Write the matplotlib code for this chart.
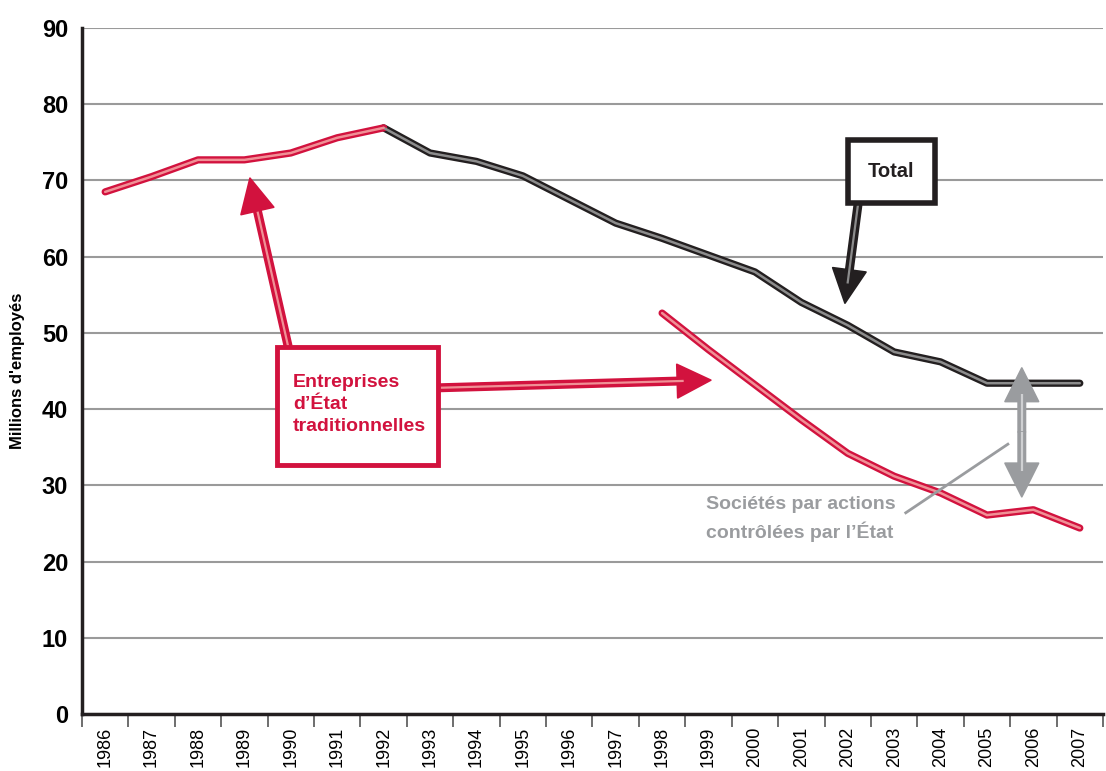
import numpy as np
import matplotlib
matplotlib.use('Agg')
import matplotlib.pyplot as plt
from matplotlib.patches import Rectangle

plt.rcParams['font.family'] = ['Liberation Sans', 'DejaVu Sans']

# data (millions of employees)
years = [str(y) for y in range(1986, 2008)]
total = [68.5, 70.5, 72.7, 72.7, 73.6, 75.6, 76.9, 73.6, 72.5, 70.6, 67.5,
         64.4, 62.4, 60.2, 58.0, 54.0, 51.0, 47.5, 46.2, 43.4, 43.4, 43.4]
trad_start = 12  # traditional SOEs series only shown from 1998
traditional = [52.6, 47.8, 43.2, 38.6, 34.2, 31.2, 29.0, 26.1, 26.8, 24.4]
yticks = [0, 10, 20, 30, 40, 50, 60, 70, 80, 90]

RED = '#d2123e'
PINK = '#f09096'
DARK = '#231f20'
MID = '#8c8c8c'
GREY = '#9a9c9f'
LGREY = '#cfd0d2'

fig = plt.figure(figsize=(11.06, 7.71), dpi=100)
ax = fig.add_axes([0.0741, 0.0739, 0.9232, 0.8898])

x = np.arange(len(years))


def double_line(xs, ys, outer, inner):
    ax.plot(xs, ys, color=outer, lw=5.2, solid_capstyle='round',
            solid_joinstyle='round', zorder=3)
    ax.plot(xs, ys, color=inner, lw=1.8, solid_capstyle='round',
            solid_joinstyle='round', zorder=4)


def double_arrow(start, tip, outer, inner, frac=0.8):
    # solid arrow with a thin light stripe along the shaft
    ax.annotate('', xy=tip, xytext=start,
                arrowprops=dict(arrowstyle='simple,head_length=1.1,head_width=1.1,tail_width=0.24',
                                fc=outer, ec=outer, lw=1.2, shrinkA=0, shrinkB=0,
                                mutation_scale=22), zorder=5)
    mid = (start[0] + (tip[0] - start[0]) * frac, start[1] + (tip[1] - start[1]) * frac)
    ax.plot([start[0], mid[0]], [start[1], mid[1]], color=inner, lw=1.6,
            solid_capstyle='butt', zorder=5)


# total: red while equal to traditional SOEs (to 1992), black afterwards
double_line(x[6:], total[6:], DARK, MID)
double_line(x[:7], total[:7], RED, PINK)
double_line(x[trad_start:], traditional, RED, PINK)

ax.set_xlim(-0.5, len(years) - 0.5)
ax.set_ylim(0, 90)
ax.set_yticks(yticks)
ax.set_yticklabels([str(v) for v in yticks], fontsize=17, fontweight='bold')
ax.tick_params(axis='y', length=0, pad=10)
ax.yaxis.grid(True, color='#9a9a9a', lw=1.5)
ax.set_axisbelow(True)

ax.set_xticks(np.arange(len(years) + 1) - 0.5)
ax.set_xticklabels([])
ax.set_xticks(x, minor=True)
ax.set_xticklabels(years, minor=True, rotation=90, fontsize=13, va='top')
ax.tick_params(axis='x', which='major', length=9, width=1.2, color='#555555')
ax.tick_params(axis='x', which='minor', length=0, pad=9)

for s in ['top', 'right']:
    ax.spines[s].set_visible(False)
for s in ['left', 'bottom']:
    ax.spines[s].set_linewidth(2.5)
    ax.spines[s].set_color(DARK)

ax.set_ylabel("Millions d'employés", fontsize=12, fontweight='bold', labelpad=12)

# Total label box and arrow
ax.add_patch(Rectangle((16.0, 67.0), 1.88, 8.3, fc='white', ec=DARK, lw=4,
                       zorder=6, clip_on=False))
ax.text(16.94, 71.2, 'Total', ha='center', va='center', fontsize=14.5,
        fontweight='bold', color=DARK, zorder=7)
double_arrow((16.22, 66.8), (15.94, 53.9), DARK, MID)

# traditional SOEs label box and arrows
ax.add_patch(Rectangle((3.70, 32.7), 3.47, 15.45, fc='white', ec=RED, lw=3.5,
                       zorder=6, clip_on=False))
ax.text(4.05, 40.6, "Entreprises\nd\u2019État\ntraditionnelles", ha='left',
        va='center', fontsize=14, fontweight='bold', color=RED,
        linespacing=1.4, zorder=7)
double_arrow((3.94, 48.3), (3.12, 70.3), RED, PINK)
double_arrow((7.2, 42.8), (13.05, 43.8), RED, PINK, frac=0.9)

# state-controlled shareholding companies: gap arrow + label
double_arrow((19.75, 37.0), (19.75, 45.4), GREY, LGREY, frac=0.6)
double_arrow((19.75, 37.0), (19.75, 28.5), GREY, LGREY, frac=0.6)
ax.plot([17.25, 19.45], [26.4, 35.4], color=GREY, lw=2, zorder=5)
ax.text(12.95, 25.6, "Sociétés par actions\ncontrôlées par l\u2019État", ha='left',
        va='center', fontsize=14, fontweight='bold', color=GREY,
        linespacing=1.5, zorder=7)

fig.savefig('out.png', dpi=100)
